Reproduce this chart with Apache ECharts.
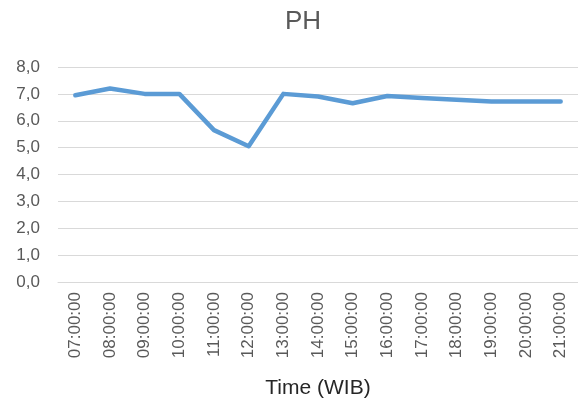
<!DOCTYPE html>
<html>
<head>
<meta charset="utf-8">
<script src="https://cdn.jsdelivr.net/npm/echarts@6/dist/echarts.min.js"></script>
<style>html,body{margin:0;padding:0;background:#fff}#c{width:578px;height:405px}</style>
</head>
<body>
<div id="c"></div>
<script>
var categories = ["07:00:00","08:00:00","09:00:00","10:00:00","11:00:00","12:00:00","13:00:00","14:00:00","15:00:00","16:00:00","17:00:00","18:00:00","19:00:00","20:00:00","21:00:00"];
var phValues = [6.95, 7.2, 7.0, 7.0, 5.65, 5.05, 7.0, 6.9, 6.65, 6.92, 6.85, 6.78, 6.72, 6.72, 6.72];
var chart = echarts.init(document.getElementById('c'), null, {renderer:'canvas'});
chart.setOption({
  animation: false,
  title: {
    text: 'PH', left: 280, top: 4,
    textStyle: {fontFamily: 'Liberation Sans, Arial, sans-serif', fontSize: 26, fontWeight: 'normal', color: '#595959'}
  },
  grid: {left: 58, width: 527, top: 67, bottom: 123},
  xAxis: {
    type: 'category', data: categories, boundaryGap: true,
    name: 'Time (WIB)', nameLocation: 'middle', nameGap: 96,
    nameTextStyle: {fontFamily: 'Liberation Sans, Arial, sans-serif', fontSize: 21, color: '#262626'},
    axisLine: {lineStyle: {color: '#d9d9d9', width: 1}},
    axisTick: {show: false},
    axisLabel: {rotate: 90, margin: 10, interval: 0, fontFamily: 'Liberation Sans, Arial, sans-serif', fontSize: 17, color: '#595959'}
  },
  yAxis: {
    type: 'value', min: 0, max: 8, interval: 1,
    axisLine: {show: false}, axisTick: {show: false},
    splitLine: {lineStyle: {color: '#d9d9d9', width: 1}},
    axisLabel: {margin: 18, fontFamily: 'Liberation Sans, Arial, sans-serif', fontSize: 17, color: '#595959',
      formatter: function(v){ return v.toFixed(1).replace('.', ','); }}
  },
  series: [{
    type: 'line', data: phValues, showSymbol: false, symbol: 'none',
    lineStyle: {color: '#5B9BD5', width: 4.5, join: 'round', cap: 'round'}
  }]
});
</script>
</body>
</html>
